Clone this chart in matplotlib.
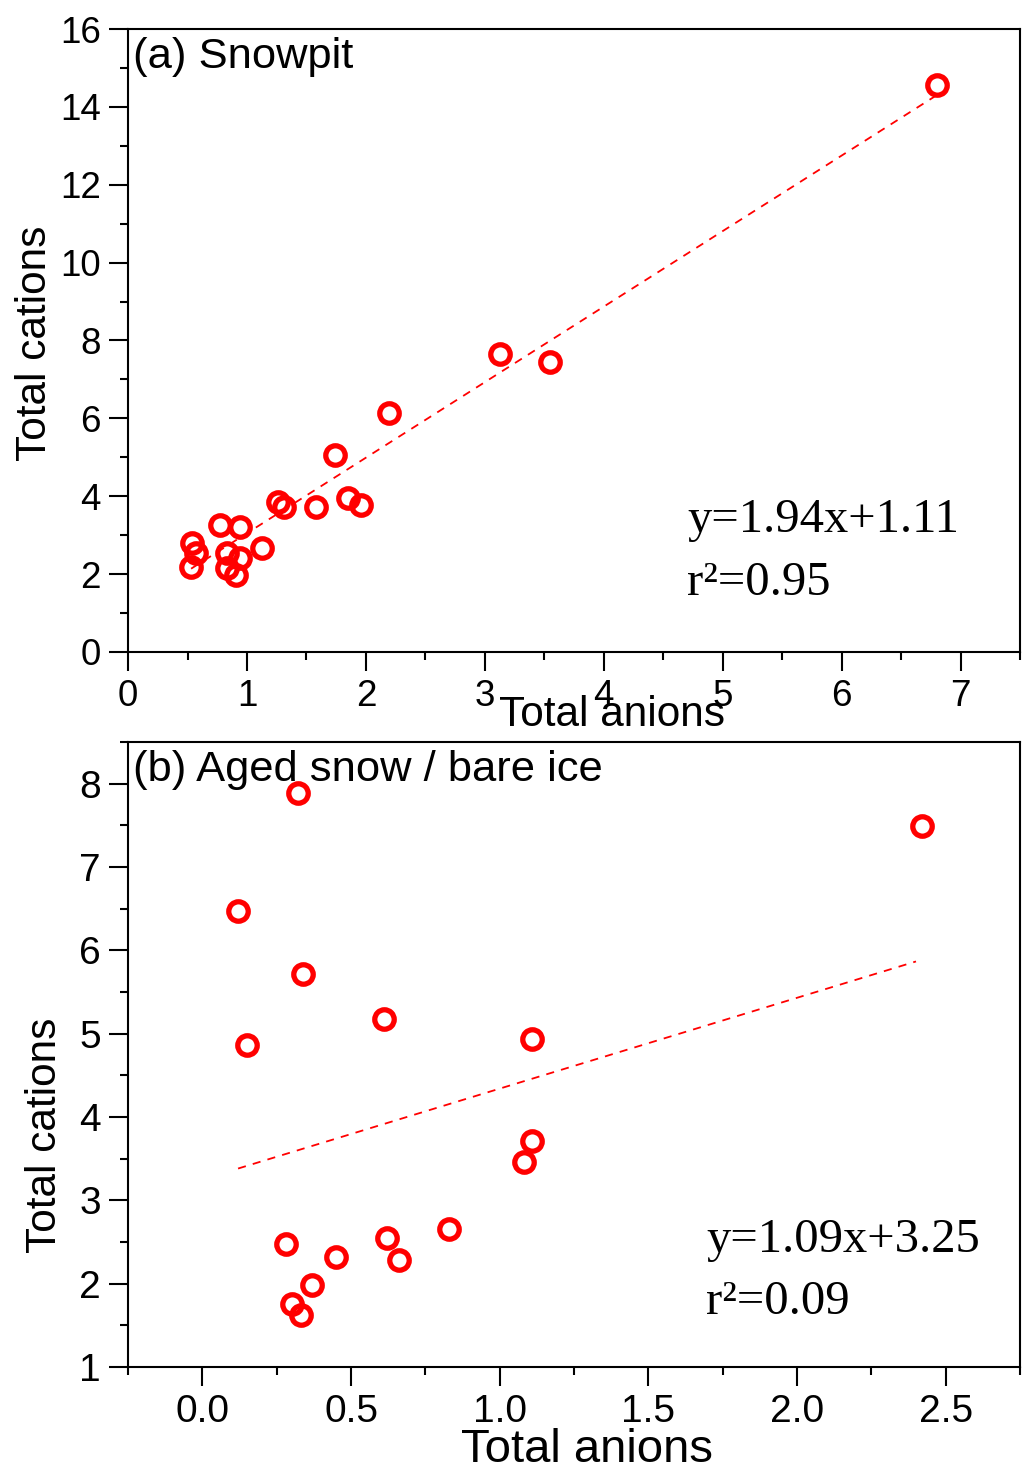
import numpy as np
import matplotlib
matplotlib.use('Agg')
import matplotlib.pyplot as plt
from matplotlib.ticker import MultipleLocator, FormatStrFormatter

plt.rcParams['font.family'] = ['Liberation Sans', 'DejaVu Sans']

# (a) snowpit samples
snow_anions = [6.80, 3.13, 3.55, 2.19, 1.74, 1.85, 1.96, 1.58, 1.26, 1.31,
               1.13, 0.77, 0.94, 0.54, 0.57, 0.53, 0.83, 0.83, 0.91, 0.94]
snow_cations = [14.56, 7.64, 7.44, 6.13, 5.05, 3.95, 3.77, 3.72, 3.85, 3.72,
                2.67, 3.26, 3.21, 2.79, 2.54, 2.18, 2.54, 2.15, 1.97, 2.41]
snow_fit = (1.94, 1.11)
snow_fit_x = [0.53, 6.80]

# (b) aged snow / bare ice samples
ice_anions = [0.32, 2.42, 0.12, 0.34, 0.61, 0.15, 1.11, 1.11, 1.08, 0.83,
              0.62, 0.66, 0.45, 0.28, 0.37, 0.30, 0.33]
ice_cations = [7.89, 7.49, 6.47, 5.72, 5.18, 4.86, 4.94, 3.71, 3.46, 2.65,
               2.55, 2.28, 2.32, 2.47, 1.98, 1.76, 1.62]
ice_fit = (1.09, 3.25)
ice_fit_x = [0.12, 2.40]

RED = '#ff0000'


def style_axes(ax, tick_size):
    for sp in ax.spines.values():
        sp.set_linewidth(1.5)
    ax.tick_params(which='major', direction='out', length=13.5, width=1.5,
                   labelsize=tick_size, pad=6)
    ax.tick_params(which='minor', direction='out', length=6, width=1.5)
    ax.tick_params(top=False, right=False)


def panel(ax, xs, ys, fit, fit_x, title, eq, r2, eq_pos, tick_size):
    ax.plot(xs, ys, 'o', ms=14, mfc='none', mec=RED, mew=3.8, zorder=3)
    fx = np.array(fit_x)
    ax.plot(fx, fit[0] * fx + fit[1], color=RED, lw=1.3, dashes=(4.5, 4))
    ax.text(0.006, 0.955, title, transform=ax.transAxes, fontsize=31.3,
            ha='left', va='center')
    ax.text(eq_pos[0], eq_pos[1], eq, transform=ax.transAxes, fontsize=35,
            family='Liberation Serif', ha='left', va='center')
    ax.text(eq_pos[0], eq_pos[2], r2, transform=ax.transAxes, fontsize=35,
            family='Liberation Serif', ha='left', va='center')
    style_axes(ax, tick_size)


fig = plt.figure(figsize=(10.31, 14.73), dpi=100)

ax1 = fig.add_axes([0.1242, 0.5574, 0.8652, 0.4229])
panel(ax1, snow_anions, snow_cations, snow_fit, snow_fit_x, '(a) Snowpit',
      'y=1.94x+1.11', 'r\u00b2=0.95', (0.627, 0.212, 0.111), 26.5)
ax1.set_xlim(0, 7.5)
ax1.set_ylim(0, 16)
ax1.xaxis.set_major_locator(MultipleLocator(1))
ax1.xaxis.set_minor_locator(MultipleLocator(0.5))
ax1.yaxis.set_major_locator(MultipleLocator(2))
ax1.yaxis.set_minor_locator(MultipleLocator(1))
ax1.set_xlabel('Total anions', fontsize=30.5, va='center')
ax1.xaxis.set_label_coords(0.543, -0.101)
ax1.set_ylabel('Total cations', fontsize=30.5, va='center')
ax1.yaxis.set_label_coords(-0.104, 0.496)

ax2 = fig.add_axes([0.1242, 0.0720, 0.8652, 0.4243])
panel(ax2, ice_anions, ice_cations, ice_fit, ice_fit_x,
      '(b) Aged snow / bare ice',
      'y=1.09x+3.25', 'r\u00b2=0.09', (0.648, 0.203, 0.104), 28)
ax2.set_xlim(-0.25, 2.75)
ax2.set_ylim(1, 8.5)
ax2.xaxis.set_major_locator(MultipleLocator(0.5))
ax2.xaxis.set_minor_locator(MultipleLocator(0.25))
ax2.xaxis.set_major_formatter(FormatStrFormatter('%.1f'))
ax2.yaxis.set_major_locator(MultipleLocator(1))
ax2.yaxis.set_minor_locator(MultipleLocator(0.5))
ax2.set_xlabel('Total anions', fontsize=34, va='center')
ax2.xaxis.set_label_coords(0.515, -0.133)
ax2.set_ylabel('Total cations', fontsize=30.5, va='center')
ax2.yaxis.set_label_coords(-0.093, 0.371)

fig.savefig('out.png', dpi=100)
